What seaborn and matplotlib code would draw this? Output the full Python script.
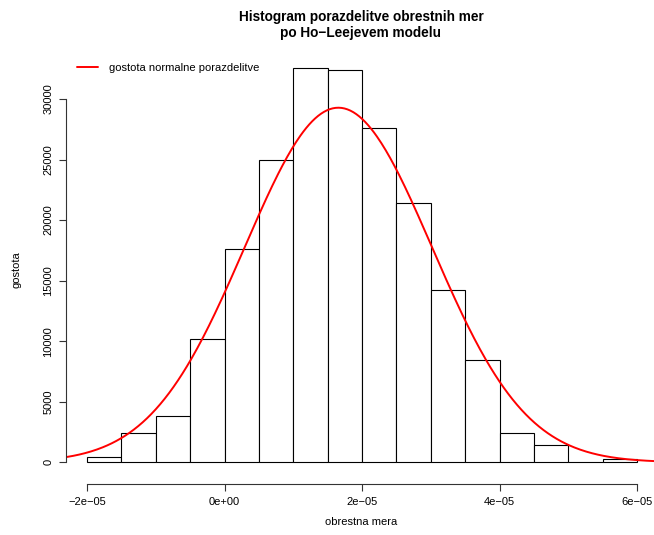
import numpy as np
import pandas as pd
import matplotlib
matplotlib.use("Agg")
import matplotlib.pyplot as plt
import seaborn as sns

# ---- data ----
bin_edges = [-2.0e-05, -1.5e-05, -1.0e-05, -5.0e-06, 0.0, 5.0e-06, 1.0e-05, 1.5e-05,
             2.0e-05, 2.5e-05, 3.0e-05, 3.5e-05, 4.0e-05, 4.5e-05, 5.0e-05, 5.5e-05, 6.0e-05]
counts = [410, 2450, 3850, 10180, 17610, 24960, 32530, 32370,
          27580, 21390, 14200, 8420, 2450, 1450, 0, 250]
# normal density parameters (overlay)
norm_mean = 1.656e-05
norm_sd = 1.3625e-05
n_total = 200000
bin_width = 5.0e-06

x_ticks = [-2e-05, 0.0, 2e-05, 4e-05, 6e-05]
x_tick_labels = ["\u22122e\u221205", "0e+00", "2e\u221205", "4e\u221205", "6e\u221205"]
y_ticks = [0, 5000, 10000, 15000, 20000, 25000, 30000]
y_tick_labels = ["0", "5000", "10000", "15000", "20000", "25000", "30000"]

title = "Histogram porazdelitve obrestnih mer\npo Ho\u2212Leejevem modelu"
x_label = "obrestna mera"
y_label = "gostota"
legend_label = "gostota normalne porazdelitve"

# ---- styling ----
sns.set_style("white")
plt.rcParams["font.family"] = ["Liberation Sans", "DejaVu Sans"]
plt.rcParams["text.color"] = "black"

W, H = 654, 535
fig = plt.figure(figsize=(W / 100, H / 100), dpi=100)
ax_left, ax_right, ax_top, ax_bottom = 66, 654, 56, 483.5
ax = fig.add_axes([ax_left / W, 1 - ax_bottom / H, (ax_right - ax_left) / W, (ax_bottom - ax_top) / H])

centers = [(a + b) / 2 for a, b in zip(bin_edges[:-1], bin_edges[1:])]
df = pd.DataFrame({"x": centers, "w": counts})
sns.histplot(data=df, x="x", weights="w", bins=bin_edges, ax=ax,
             color="white", edgecolor="black", linewidth=0.8, alpha=1.0)

xlim = (-2.3055e-05, 6.247e-05)
xs = np.linspace(xlim[0], xlim[1], 400)
ys = n_total * bin_width / (norm_sd * np.sqrt(2 * np.pi)) * np.exp(-0.5 * ((xs - norm_mean) / norm_sd) ** 2)
sns.lineplot(x=xs, y=ys, ax=ax, color="red", linewidth=1.4, label=legend_label)

ax.set_xlim(*xlim)
ax.set_ylim(-1751, 33550)

ax.set_xticks(x_ticks)
ax.set_xticklabels(x_tick_labels, fontsize=8)
ax.set_yticks(y_ticks)
ax.set_yticklabels(y_tick_labels, fontsize=8, rotation=90, va="center")
ax.tick_params(axis="both", direction="out", length=5, width=0.8, color="#333333",
               labelcolor="black", bottom=True, left=True)
ax.tick_params(axis="x", pad=5)
ax.tick_params(axis="y", pad=4)

for s in ["top", "right"]:
    ax.spines[s].set_visible(False)
ax.spines["bottom"].set_bounds(x_ticks[0], x_ticks[-1])
ax.spines["left"].set_bounds(y_ticks[0], y_ticks[-1])
for s in ["bottom", "left"]:
    ax.spines[s].set_linewidth(0.8)
    ax.spines[s].set_color("#333333")

ax.set_xlabel("")
ax.set_ylabel("")
fig.text(361 / W, 1 - 522 / H, x_label, ha="center", va="center", fontsize=8, color="black")
fig.text(17 / W, 1 - 270 / H, y_label, ha="center", va="center", fontsize=8, rotation=90, color="black")
fig.text(361 / W, 1 - 25 / H, title, ha="center", va="center", fontsize=9.8,
         fontweight="bold", linespacing=1.2, color="black")

leg = ax.legend(loc="upper left", bbox_to_anchor=(0.0068, 1.0), frameon=False, fontsize=8,
                handlelength=1.9, handletextpad=1.0, borderaxespad=0.2)
for t in leg.get_texts():
    t.set_color("black")

fig.savefig("out.png", dpi=100)
